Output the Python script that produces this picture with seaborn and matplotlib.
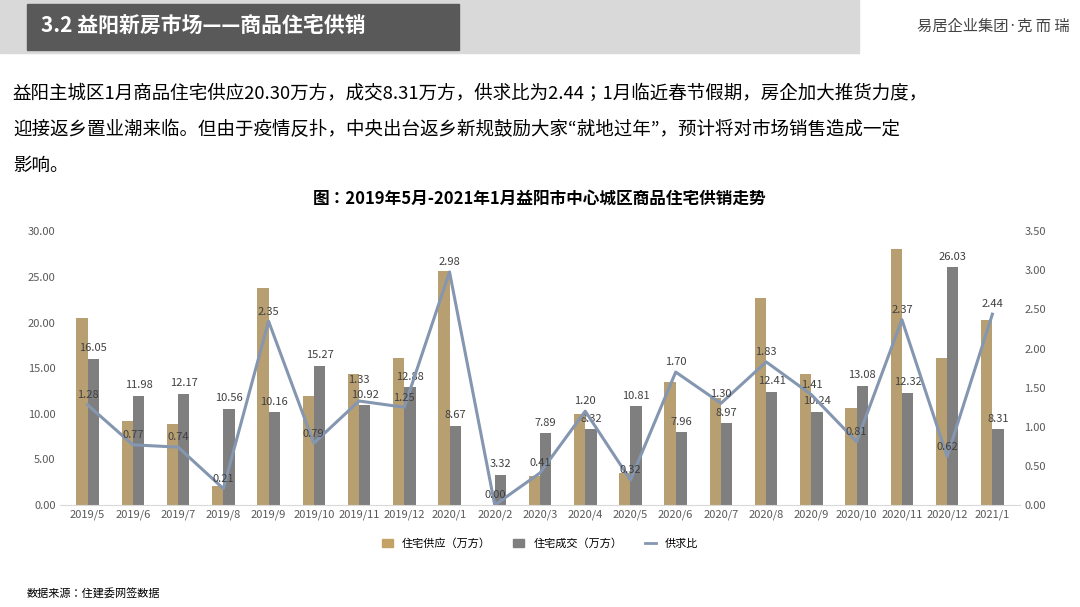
import matplotlib.pyplot as plt
import numpy as np
import pandas as pd
import seaborn as sns
from matplotlib.patches import Rectangle

plt.rcParams["font.family"] = ["Noto Sans CJK JP", "Noto Sans CJK SC", "DejaVu Sans"]

months = ["2019/5", "2019/6", "2019/7", "2019/8", "2019/9", "2019/10", "2019/11",
          "2019/12", "2020/1", "2020/2", "2020/3", "2020/4", "2020/5", "2020/6",
          "2020/7", "2020/8", "2020/9", "2020/10", "2020/11", "2020/12", "2021/1"]
supply = [20.5, 9.2, 8.9, 2.1, 23.8, 11.9, 14.4, 16.1, 25.6, 0.0, 3.2, 10.0,
          3.5, 13.5, 11.7, 22.7, 14.4, 10.6, 28.1, 16.1, 20.30]
deal = [16.05, 11.98, 12.17, 10.56, 10.16, 15.27, 10.92, 12.88, 8.67, 3.32, 7.89,
        8.32, 10.81, 7.96, 8.97, 12.41, 10.24, 13.08, 12.32, 26.03, 8.31]
ratio = [1.28, 0.77, 0.74, 0.21, 2.35, 0.79, 1.33, 1.25, 2.98, 0.00, 0.41, 1.20,
         0.32, 1.70, 1.30, 1.83, 1.41, 0.81, 2.37, 0.62, 2.44]

c_supply = "#C4A265"
c_deal = "#7F7F7F"
c_ratio = "#8496B0"

df = pd.DataFrame({"month": months * 2,
                   "value": supply + deal,
                   "series": ["住宅供应（万方）"] * len(months) + ["住宅成交（万方）"] * len(months)})

fig = plt.figure(figsize=(10.8, 6.07), dpi=100)

# header
fig.patches.append(Rectangle((0.0, 0.912), 0.795, 0.088, transform=fig.transFigure, color="#D9D9D9"))
fig.patches.append(Rectangle((0.025, 0.918), 0.40, 0.076, transform=fig.transFigure, color="#595959"))
fig.text(0.038, 0.956, "3.2 益阳新房市场——商品住宅供销", color="white", fontsize=15,
         fontweight="bold", va="center")
fig.text(0.99, 0.956, "易居企业集团·克 而 瑞", color="#444444", fontsize=11, va="center", ha="right")
fig.text(0.012, 0.845, "益阳主城区1月商品住宅供应20.30万方，成交8.31万方，供求比为2.44；1月临近春节假期，房企加大推货力度，",
         fontsize=13.3, va="center")
fig.text(0.012, 0.786, "迎接返乡置业潮来临。但由于疫情反扑，中央出台返乡新规鼓励大家“就地过年”，预计将对市场销售造成一定",
         fontsize=13.3, va="center")
fig.text(0.012, 0.727, "影响。", fontsize=13.3, va="center")
fig.text(0.5, 0.672, "图：2019年5月-2021年1月益阳市中心城区商品住宅供销走势", fontsize=12,
         fontweight="bold", ha="center", va="center")
fig.text(0.025, 0.022, "数据来源：住建委网签数据", fontsize=8, va="center")

ax = fig.add_axes([0.056, 0.168, 0.888, 0.451])
sns.barplot(data=df, x="month", y="value", hue="series", palette=[c_supply, c_deal],
            width=0.5, gap=0, ax=ax, legend=False)
ax.set_ylim(0, 30)
ax.set_yticks(np.arange(0, 30.1, 5))
ax.set_yticklabels([f"{v:.2f}" for v in np.arange(0, 30.1, 5)])
ax.set_xlabel("")
ax.set_ylabel("")
for s in ["top", "right", "left"]:
    ax.spines[s].set_visible(False)
ax.spines["bottom"].set_color("#D9D9D9")
ax.tick_params(length=0, labelsize=8, colors="#595959")
x = np.arange(len(months))
for xi, v in zip(x, deal):
    ax.text(xi + 0.125, v + 0.6, f"{v:.2f}", ha="center", va="bottom", fontsize=8, color="#404040")

ax2 = ax.twinx()
sns.lineplot(x=x, y=ratio, color=c_ratio, linewidth=2.2, ax=ax2)
ax2.set_ylim(0, 3.5)
ax2.set_yticks(np.arange(0, 3.51, 0.5))
ax2.set_yticklabels([f"{v:.2f}" for v in np.arange(0, 3.51, 0.5)])
for s in ["top", "right", "left", "bottom"]:
    ax2.spines[s].set_visible(False)
ax2.tick_params(length=0, labelsize=8, colors="#595959")
for xi, v in zip(x, ratio):
    dy = 0.2 if v == 1.33 else 0.06
    ax2.text(xi, v + dy, f"{v:.2f}", ha="center", va="bottom", fontsize=8, color="#404040")
ax.set_xlim(-0.6, len(months) - 0.4)

handles = [Rectangle((0, 0), 1, 1, color=c_supply), Rectangle((0, 0), 1, 1, color=c_deal),
           plt.Line2D([], [], color=c_ratio, linewidth=2)]
fig.legend(handles, ["住宅供应（万方）", "住宅成交（万方）", "供求比"], loc="center",
           bbox_to_anchor=(0.5, 0.105), ncol=3, frameon=False, fontsize=8,
           handlelength=1.0, handleheight=0.7)

fig.savefig("out.png", dpi=100)
